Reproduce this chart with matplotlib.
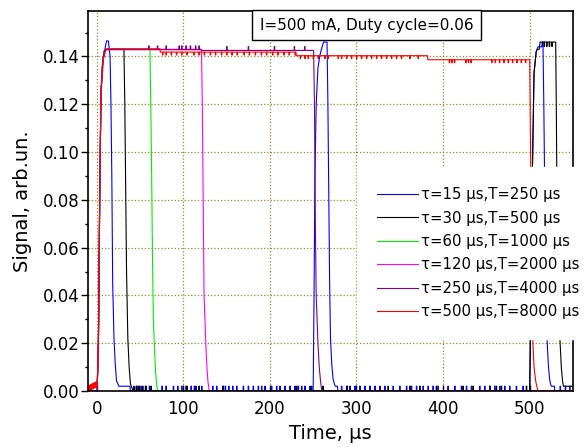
import matplotlib
matplotlib.use('Agg')
import matplotlib.pyplot as plt
import numpy as np

# time in µs, signal in arb. units, key points
blue_t = [-10, 0.5, 2, 3.5, 5, 7, 9, 10.5, 11.5, 13.5, 15.5, 16.5, 17.5, 18.5, 20, 21.5, 23, 24, 25.5, 38.5, 39,
          250, 251, 252, 253.5, 255.5, 257.5, 259.5, 262, 266, 267, 268, 269, 270, 271.5, 273, 274, 275.5, 278, 278.5,
          500, 501, 502, 503.5, 505, 507.5, 509.5, 514, 514.5, 515.3, 516.3, 517.5, 518.5, 520, 521.5, 523, 524,
          525, 528.5, 529, 550]
blue_y = [0, 0, 0.02, 0.08, 0.125, 0.138, 0.142, 0.145, 0.1465, 0.1465, 0.14, 0.12, 0.09, 0.045, 0.022, 0.011,
          0.004, 0.0035, 0.002, 0.002, 0,
          0, 0.04, 0.09, 0.12, 0.135, 0.14, 0.143, 0.146, 0.146, 0.12, 0.08, 0.045, 0.022, 0.011, 0.005, 0.0035,
          0.002, 0.002, 0,
          0, 0.03, 0.07, 0.1, 0.133, 0.142, 0.144, 0.144, 0.146, 0.146, 0.12, 0.08, 0.045, 0.022, 0.011, 0.005,
          0.003, 0.002, 0.002, 0, 0]
blue_noise = [45.4, 48, 51.1, 56.1, 60.7, 75.3, 79.9, 88.4, 93.4, 98, 103, 108.8, 112.6, 114.5, 121.1, 133.8,
              138.4, 145.3, 148.4, 152.3, 156.9, 161.5, 169.1, 174.9, 180.6, 186.4, 190.3, 194.1, 201.8, 207.6,
              211.4, 217.2, 223, 228.7, 232.6, 236.5, 240.3, 246.1, 282.6, 288.4, 292.2, 298, 303.7, 309.5,
              315.3, 321.1, 326.8, 332.5, 342.1, 349.8, 357.6, 363.3, 369.1, 376.7, 382.5, 388.2, 394, 405.5,
              413.3, 421, 426.8, 432.5, 442.1, 447.9, 453.7, 459.4, 465.2, 471, 476.7, 484.4, 492.1, 535, 541,
              546]

black_t = [-10, 0.5, 2, 3.5, 5, 7, 9, 10, 31.5, 32.5, 33.5, 34.5, 36, 37.5, 39, 40.5, 42,
           500, 501, 502, 503.5, 505, 507.5, 509, 511, 512, 530, 530.7, 531.5, 533, 535, 536.5, 538, 539, 550]
black_y = [0, 0, 0.02, 0.08, 0.125, 0.138, 0.1425, 0.143, 0.143, 0.12, 0.085, 0.05, 0.022, 0.01, 0.003, 0.0015, 0,
           0, 0.03, 0.07, 0.1, 0.133, 0.142, 0.143, 0.143, 0.146, 0.146, 0.12, 0.08, 0.045, 0.021, 0.01, 0.004,
           0.002, 0.002]
black_noise = [42.7, 46.1, 49.1, 53, 56.9, 62.6, 104, 118, 146, 230.7, 248, 261, 289, 336.3, 361.4, 372.9, 392,
               422.8, 434.4, 453.6, 461.3, 467.1, 496]
black_dips = [516.5, 519.5, 522.5, 525.5]

green_t = [-10, 0.5, 2, 3.5, 5, 7, 9, 10, 61.5, 62.5, 63.5, 64.5, 65.5, 66.5, 68, 69.5, 70.5, 550]
green_y = [0, 0, 0.02, 0.08, 0.125, 0.138, 0.1425, 0.143, 0.143, 0.12, 0.09, 0.055, 0.03, 0.02, 0.008, 0.002, 0, 0]

magenta_t = [-10, 0.5, 2, 3.5, 5, 7, 9, 10, 121, 122, 123, 124, 126, 127.3, 128.5, 130, 550]
magenta_y = [0, 0, 0.02, 0.08, 0.125, 0.138, 0.1425, 0.143, 0.143, 0.12, 0.08, 0.04, 0.02, 0.01, 0.004, 0, 0]

purple_t = [-10, 0.5, 2, 3.5, 5, 7, 9, 10, 120, 121, 250.5, 251.5, 252.5, 253.5, 255.5, 257, 258.5, 260, 550]
purple_y = [0, 0, 0.02, 0.08, 0.125, 0.138, 0.1425, 0.1428, 0.1428, 0.1425, 0.1425, 0.12, 0.07, 0.04, 0.02,
            0.01, 0.004, 0, 0]
purple_noise = [60, 70, 80, 95, 98, 103, 108, 114, 118, 150, 175, 205, 228, 240]

red_t = [-10, 0.5, 1.5, 2.5, 3.5, 4.5, 6, 8, 10, 12, 73, 73.5, 230, 230.5, 382, 382.5, 500, 500.5, 501.5,
         502.5, 503.6, 505, 507, 509.5, 550]
red_y = [0, 0.002, 0.01, 0.03, 0.08, 0.115, 0.13, 0.139, 0.142, 0.1432, 0.1432, 0.1418, 0.1418, 0.1403, 0.1403,
         0.1386, 0.1386, 0.12, 0.08, 0.045, 0.021, 0.01, 0.004, 0, 0]
red_pre = [-9.6, -8.8, -8.1, -7.3, -6.4, -5.7, -4.9, -4.0, -3.3, -2.5, -1.6, -0.8]
red_dips = [76, 80, 86, 92, 98, 104, 112, 118, 124, 131, 137, 144, 150, 156, 162, 170, 176, 183, 190, 196, 203,
            209, 216, 222, 229, 235, 240.3, 244.1, 249.8, 255.6, 263.3, 267.2, 278.7, 282.6, 288.4, 294.1,
            299.9, 305.7, 311.4, 317.2, 323, 328.7, 334.5, 340.3, 346, 351.8, 361.4, 371, 407, 410, 413, 426,
            429, 432, 456, 460, 465, 470, 475, 480, 485, 490, 495]

labels = ['τ=15 µs,T=250 µs', 'τ=30 µs,T=500 µs', 'τ=60 µs,T=1000 µs',
          'τ=120 µs,T=2000 µs', 'τ=250 µs,T=4000 µs', 'τ=500 µs,T=8000 µs']
colors = ['#0000ff', '#000000', '#00ee00', '#ff00ff', '#800080', '#ff0000']


def add_spikes(t, y, spikes, dy, w=0.6):
    pts = list(zip(t, y))
    for s in spikes:
        b = float(np.interp(s, t, y))
        pts += [(s, b), (s + 0.01, b + dy), (s + w, b + dy), (s + w + 0.01, b)]
    pts.sort()
    return [p[0] for p in pts], [p[1] for p in pts]


series = [
    add_spikes(blue_t, blue_y, blue_noise, 0.002),
    add_spikes(*add_spikes(black_t, black_y, black_noise, 0.002), black_dips, -0.0018),
    (green_t, green_y),
    (magenta_t, magenta_y),
    add_spikes(purple_t, purple_y, purple_noise, 0.0016),
    add_spikes(*add_spikes(red_t, red_y, red_pre, 0.002, w=0.4), red_dips, -0.0012),
]

fig = plt.figure(figsize=(5.85, 4.47), dpi=100)
ax = fig.add_axes([88 / 585, 1 - 391 / 447, 485 / 585, 380 / 447])

for (x, y), c, lab in zip(series, colors, labels):
    ax.plot(x, y, color=c, lw=0.8, label=lab)

ax.set_xlim(-10, 550)
ax.set_ylim(0, 0.159)
ax.set_xticks(range(0, 501, 100))
ax.set_yticks(np.arange(0, 0.141, 0.02))
ax.set_yticks(np.arange(0.01, 0.16, 0.02), minor=True)
ax.yaxis.set_major_formatter(matplotlib.ticker.FormatStrFormatter('%.2f'))
ax.tick_params(axis='x', direction='in', length=4.5, width=1, labelsize=12, pad=6.5)
ax.tick_params(axis='y', which='major', direction='out', length=5, width=1, labelsize=12, pad=1)
ax.tick_params(axis='y', which='minor', direction='out', length=2.5, width=1)
for sp in ax.spines.values():
    sp.set_linewidth(1.2)

ax.grid(True, which='major', color='#8f8f2a', linestyle=':', linewidth=0.9)
ax.set_axisbelow(True)

ax.set_xlabel('Time, µs', fontsize=14, labelpad=4)
ax.set_ylabel('Signal, arb.un.', fontsize=14, labelpad=8)

ax.text(0.574, 0.963, 'I=500 mA, Duty cycle=0.06', transform=ax.transAxes, ha='center', va='center',
        fontsize=11, bbox=dict(boxstyle='square,pad=0.5', fc='white', ec='black', lw=1))

leg = ax.legend(loc='upper left', bbox_to_anchor=(357 / 585, 1 - 167 / 447), bbox_transform=fig.transFigure,
                fontsize=10.7, frameon=True, fancybox=False, framealpha=1, edgecolor='white', facecolor='white',
                handlelength=2.75, handletextpad=0.2, labelspacing=0.57, borderpad=1.35, borderaxespad=0)

fig.savefig('out.png', dpi=100)
